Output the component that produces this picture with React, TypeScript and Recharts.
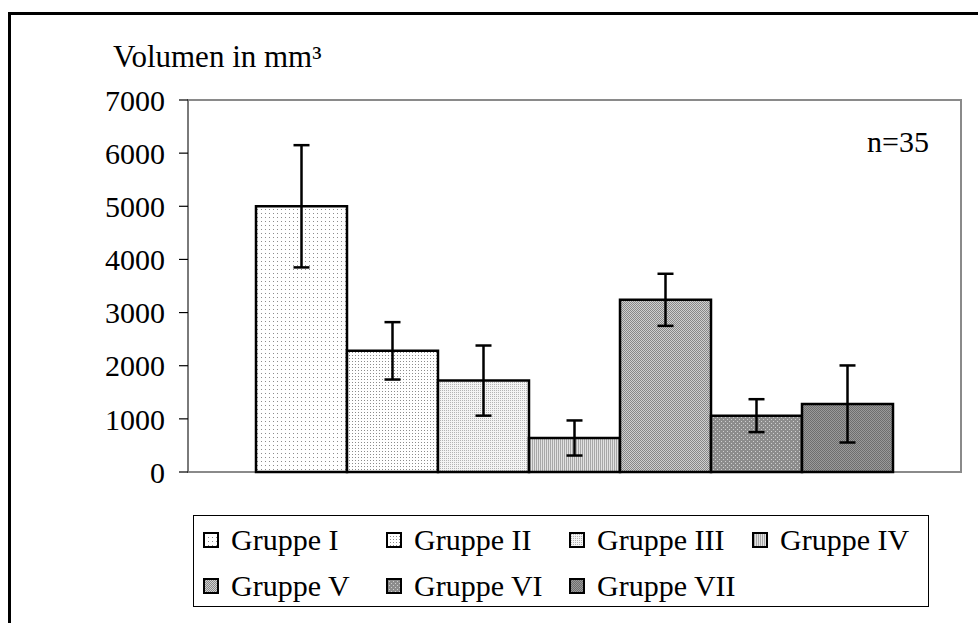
import { BarChart, Bar, XAxis, YAxis, ErrorBar, Legend, ReferenceArea } from "recharts";

document.body.style.margin = "0";
document.body.style.overflow = "hidden";

const groups = ["Gruppe I", "Gruppe II", "Gruppe III", "Gruppe IV", "Gruppe V", "Gruppe VI", "Gruppe VII"];
const means = [5000, 2280, 1720, 640, 3240, 1060, 1280];
const errors = [1150, 540, 660, 330, 490, 310, 725];
const yTicks = [0, 1000, 2000, 3000, 4000, 5000, 6000, 7000];

const FONT = "'Liberation Serif', 'Times New Roman', serif";

const row: Record<string, string | number> = { cat: "" };
groups.forEach((_, i) => {
  row[`m${i}`] = means[i];
  row[`e${i}`] = errors[i];
});
const chartData = [row];

function Patterns() {
  return (
    <defs>
      <pattern id="pat0" width="4" height="4" patternUnits="userSpaceOnUse">
        <rect width="4" height="4" fill="#fff" />
        <rect x="1" y="1" width="1" height="1" fill="#8c8c8c" />
      </pattern>
      <pattern id="pat1" width="3" height="3" patternUnits="userSpaceOnUse">
        <rect width="3" height="3" fill="#fff" />
        <rect x="1" y="1" width="1" height="1" fill="#8c8c8c" />
      </pattern>
      <pattern id="pat2" width="2" height="2" patternUnits="userSpaceOnUse">
        <rect width="2" height="2" fill="#f4f4f4" />
        <rect x="0" y="0" width="1" height="1" fill="#b4b4b4" />
      </pattern>
      <pattern id="pat3" width="2" height="2" patternUnits="userSpaceOnUse">
        <rect width="2" height="2" fill="#e2e2e2" />
        <rect x="0" y="0" width="1" height="2" fill="#a8a8a8" />
      </pattern>
      <pattern id="pat4" width="2" height="2" patternUnits="userSpaceOnUse">
        <rect width="2" height="2" fill="#d0d0d0" />
        <rect x="0" y="0" width="1" height="1" fill="#888" />
        <rect x="1" y="1" width="1" height="1" fill="#888" />
      </pattern>
      <pattern id="pat5" width="4" height="4" patternUnits="userSpaceOnUse">
        <rect width="4" height="4" fill="#8c8c8c" />
        <rect x="1" y="1" width="1" height="1" fill="#cfcfcf" />
        <rect x="3" y="3" width="1" height="1" fill="#cfcfcf" />
      </pattern>
      <pattern id="pat6" width="2" height="2" patternUnits="userSpaceOnUse">
        <rect width="2" height="2" fill="#9a9a9a" />
        <rect x="0" y="0" width="1" height="1" fill="#6e6e6e" />
        <rect x="1" y="1" width="1" height="1" fill="#6e6e6e" />
      </pattern>
    </defs>
  );
}

function LegendBox() {
  return (
    <div
      style={{
        boxSizing: "border-box",
        width: 736,
        height: 92,
        border: "1.5px solid #000",
        background: "#fff",
        padding: "1px 0 0 9px",
        display: "grid",
        gridTemplateColumns: "183px 183px 183px 183px",
        gridAutoRows: 46,
        fontFamily: FONT,
        fontSize: 30,
        color: "#000",
      }}
    >
      {groups.map((g, i) => (
        <div key={g} style={{ display: "flex", alignItems: "center", whiteSpace: "nowrap" }}>
          <svg width={16} height={16} style={{ marginRight: 12, flex: "none" }}>
            <rect x={1} y={1} width={14} height={14} fill={`url(#pat${i})`} stroke="#000" strokeWidth={2} />
          </svg>
          <span>{g}</span>
        </div>
      ))}
    </div>
  );
}

export default function App() {
  return (
    <div style={{ position: "relative", width: 978, height: 623, overflow: "hidden", background: "#fff" }}>
      <div
        style={{
          position: "absolute",
          left: 8,
          top: 12,
          width: 1100,
          height: 700,
          borderLeft: "3px solid #000",
          borderTop: "3px solid #000",
        }}
      />
      <BarChart
        width={978}
        height={623}
        data={chartData}
        margin={{ top: 100, right: 17, left: 0, bottom: 151 }}
        barCategoryGap={68}
        barGap={0}
        style={{ position: "absolute", left: 0, top: 0 }}
      >
        <Patterns />
        <XAxis dataKey="cat" hide />
        <YAxis
          width={188}
          domain={[0, 7000]}
          ticks={yTicks}
          interval={0}
          tickSize={9}
          tickMargin={14}
          tickLine={{ stroke: "#000", strokeWidth: 1.2 }}
          axisLine={{ stroke: "#7a7a7a", strokeWidth: 2 }}
          tick={{ fontFamily: FONT, fontSize: 30, fill: "#000" }}
        />
        <ReferenceArea y1={0} y2={7000} fill="none" stroke="#8a8a8a" strokeWidth={2} ifOverflow="visible" />
        {groups.map((g, i) => (
          <Bar
            key={g}
            name={g}
            dataKey={`m${i}`}
            fill={`url(#pat${i})`}
            stroke="#000"
            strokeWidth={2.5}
            isAnimationActive={false}
          >
            <ErrorBar dataKey={`e${i}`} direction="y" width={8} stroke="#000" strokeWidth={2.5} isAnimationActive={false} />
          </Bar>
        ))}
        <Legend
          layout="horizontal"
          verticalAlign="middle"
          align="center"
          wrapperStyle={{ left: 193, top: 515, width: 736, height: 92 }}
          content={() => <LegendBox />}
        />
      </BarChart>
      <svg width={978} height={623} style={{ position: "absolute", left: 0, top: 0, pointerEvents: "none" }}>
        <text x={113} y={67} fontFamily={FONT} fontSize={31} fill="#000">
          Volumen in mm³
        </text>
        <text x={929} y={152} textAnchor="end" fontFamily={FONT} fontSize={30} fill="#000">
          n=35
        </text>
      </svg>
    </div>
  );
}
